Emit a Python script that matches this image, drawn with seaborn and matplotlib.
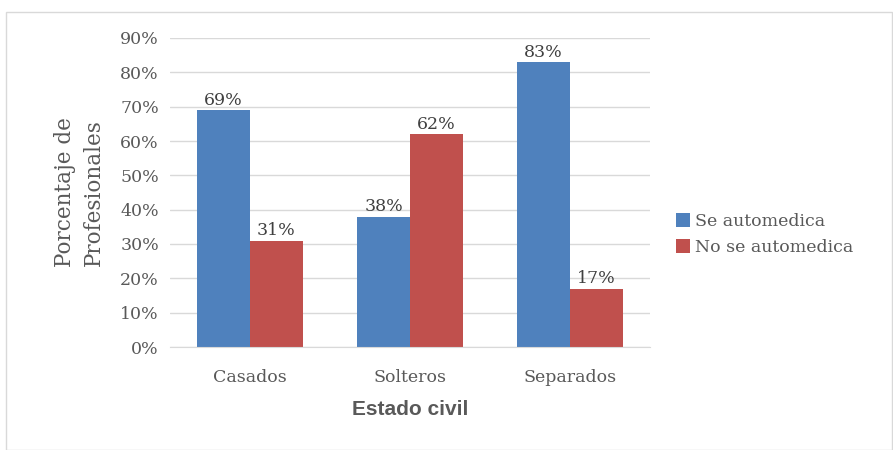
import matplotlib
matplotlib.use("Agg")
import matplotlib.pyplot as plt
import seaborn as sns
import pandas as pd
from matplotlib.patches import Rectangle

# data
estados = ["Casados", "Solteros", "Separados"]
se_automedica = [69, 38, 83]
no_se_automedica = [31, 62, 17]
series = ["Se automedica", "No se automedica"]

df = pd.DataFrame({
    "Estado civil": estados * 2,
    "Serie": [series[0]] * 3 + [series[1]] * 3,
    "Valor": se_automedica + no_se_automedica,
})

sns.set_style("white")
plt.rcParams["font.family"] = ["DejaVu Serif"]

fig = plt.figure(figsize=(8.93, 4.5), dpi=100)
fig.patches.append(Rectangle((6 / 893, 0), 1 - 6 / 893 - 0.001, 1 - 12 / 450,
                             transform=fig.transFigure, fill=False,
                             edgecolor="#D9D9D9", linewidth=1))
ax = fig.add_axes([170 / 893, 1 - 347 / 450, 480 / 893, 309 / 450])

sns.barplot(data=df, x="Estado civil", y="Valor", hue="Serie",
            palette=["#4F81BD", "#C0504D"], width=0.66, gap=0,
            saturation=1, ax=ax, legend=True, linewidth=0)

ax.set_ylim(0, 90)
ax.set_xlim(-0.5, 2.5)
ax.set_yticks(range(0, 91, 10))
ax.set_yticklabels([f"{v}%" for v in range(0, 91, 10)])
ax.yaxis.grid(True, color="#D9D9D9", linewidth=1)
ax.set_axisbelow(True)
for s in ["top", "right", "left"]:
    ax.spines[s].set_visible(False)
ax.spines["bottom"].set_color("#D9D9D9")
ax.tick_params(axis="both", length=0, labelsize=12.5, colors="#595959", pad=8)
ax.tick_params(axis="x", pad=16)

for cont in ax.containers:
    ax.bar_label(cont, labels=[f"{v:.0f}%" for v in cont.datavalues],
                 fontsize=12.5, color="#404040", padding=1)

ax.set_ylabel("Porcentaje de\nProfesionales", fontsize=15.5, color="#595959",
              labelpad=11, linespacing=1.4)
ax.set_xlabel("Estado civil", fontsize=15, fontweight="bold", color="#595959",
              family="Liberation Sans", labelpad=10)

leg = ax.legend(loc="center left", bbox_to_anchor=(1.04, 0.365), frameon=False,
                fontsize=12.5, handlelength=0.8, handleheight=0.9,
                handletextpad=0.3, labelspacing=0.5, borderaxespad=0)
for t in leg.get_texts():
    t.set_color("#595959")

fig.savefig("out.png", dpi=100)
